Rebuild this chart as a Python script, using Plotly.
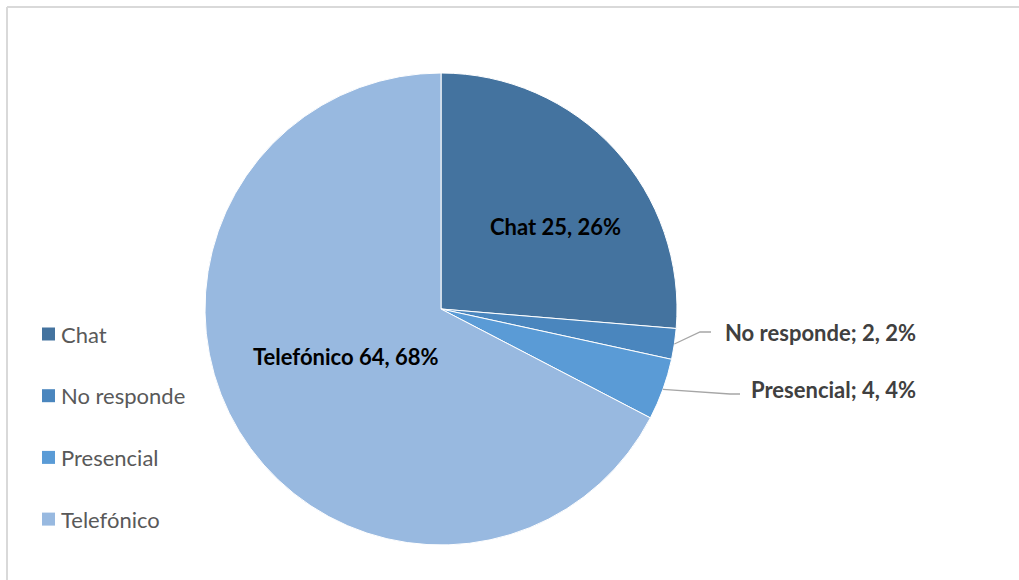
import math
import plotly.graph_objects as go

# Attention channel survey results
categories = ["Chat", "No responde", "Presencial", "Telefónico"]
counts = [25, 2, 4, 64]
percent_labels = ["26%", "2%", "4%", "68%"]
colors = ["#44739F", "#4A86BE", "#5A9BD6", "#98B9E0"]

W, H = 1019, 580
FONT = "Lato"

# pie geometry in pixels
cx, cy, R = 441, 309, 236


def px(x):
    return x / W


def py(y):
    return 1 - y / H


fig = go.Figure(
    go.Pie(
        labels=categories,
        values=counts,
        sort=False,
        direction="clockwise",
        rotation=0,
        marker=dict(colors=colors, line=dict(color="#FFFFFF", width=1)),
        textinfo="none",
        hoverinfo="label+value+percent",
        showlegend=False,
        domain=dict(x=[px(cx - R), px(cx + R)], y=[py(cy + R), py(cy - R)]),
    )
)

total = sum(counts)
mids = []
acc = 0
for v in counts:
    mids.append(math.radians((acc + v / 2) / total * 360))
    acc += v


def on_pie(angle, r):
    return cx + r * math.sin(angle), cy - r * math.cos(angle)


annotations = []
shapes = []

# labels inside the large slices
inside = {0: (0.6, 0.12), 3: (0.45, 0.08)}
for i, (frac, shift) in inside.items():
    x, y = on_pie(mids[i] + shift, R * frac)
    annotations.append(dict(
        x=px(x), y=py(y), xref="paper", yref="paper",
        text=f"<b>{categories[i]} {counts[i]}, {percent_labels[i]}</b>",
        showarrow=False, font=dict(family=FONT, size=22, color="#000000"),
        xanchor="center", yanchor="middle",
    ))

# labels outside the small slices, with leader lines
outside = {1: ((700, 332), (711, 332), 332), 2: ((730, 394), (740, 394), 389)}
label_right = 918
for i, (bend, end, label_y) in outside.items():
    sx, sy = on_pie(mids[i], R)
    shapes.append(dict(
        type="path", xref="paper", yref="paper",
        path=f"M {px(sx)},{py(sy)} L {px(bend[0])},{py(bend[1])} L {px(end[0])},{py(end[1])}",
        line=dict(color="#A6A6A6", width=1.3),
    ))
    annotations.append(dict(
        x=px(label_right), y=py(label_y), xref="paper", yref="paper",
        text=f"<b>{categories[i]}; {counts[i]}, {percent_labels[i]}</b>",
        showarrow=False, font=dict(family=FONT, size=22, color="#404040"),
        xanchor="right", yanchor="middle",
    ))

# legend drawn as squares and labels on the left
leg_y0, leg_step = 334, 61.7
for i, name in enumerate(categories):
    yc = leg_y0 + i * leg_step
    shapes.append(dict(
        type="rect", xref="paper", yref="paper",
        x0=px(42), x1=px(55), y0=py(yc + 6.5), y1=py(yc - 6.5),
        fillcolor=colors[i], line=dict(width=0),
    ))
    annotations.append(dict(
        x=px(59), y=py(yc), xref="paper", yref="paper",
        text=name, showarrow=False,
        font=dict(family=FONT, size=22, color="#595959"),
        xanchor="left", yanchor="middle",
    ))

# chart frame: only its top and left edges fall inside the view
frame = dict(color="#D9D9D9", width=2)
shapes.append(dict(type="line", xref="paper", yref="paper",
                   x0=px(7), x1=1, y0=py(7), y1=py(7), line=frame))
shapes.append(dict(type="line", xref="paper", yref="paper",
                   x0=px(7), x1=px(7), y0=0, y1=py(7), line=frame))

fig.update_layout(
    width=W, height=H,
    margin=dict(l=0, r=0, t=0, b=0),
    paper_bgcolor="#FFFFFF",
    plot_bgcolor="#FFFFFF",
    annotations=annotations,
    shapes=shapes,
    font=dict(family=FONT),
)

fig.write_html("out.html")
